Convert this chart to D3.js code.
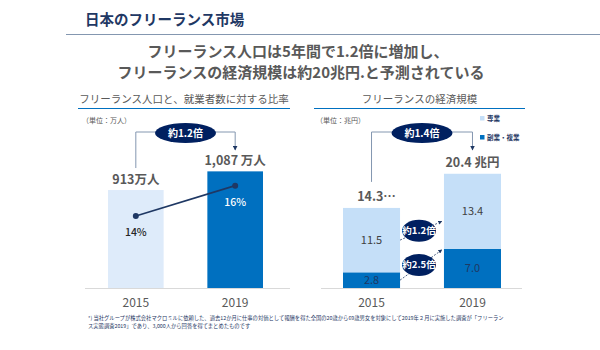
<!DOCTYPE html>
<html>
<head>
<meta charset="utf-8">
<script src="https://cdn.jsdelivr.net/npm/d3@7"></script>
<style>
  body { margin: 0; background: #fff; }
  svg { font-family: "Noto Sans CJK JP", "Noto Sans", sans-serif; }
</style>
</head>
<body>
<svg width="600" height="350"></svg>
<script>
const svg = d3.select('svg');

const years = ['2015', '2019'];
const freelancers = [913, 1087];
const freelancerLabels = ['913万人', '1,087 万人'];
const workforceShare = [14, 16];
const mainJob = [11.5, 13.4];
const sideJob = [2.8, 7.0];
const marketLabels = ['14.3…', '20.4 兆円'];
const growthLabels = ['約1.2倍', '約1.4倍'];
const segmentGrowth = ['約1.2倍', '約2.5倍'];

const NAVY = '#1f3864';
const DARK = '#002060';
const GREY = '#595959';
const BLUE = '#0070c0';

// arrow marker
svg.append('defs').append('marker')
    .attr('id', 'arrow')
    .attr('viewBox', '0 0 10 10')
    .attr('refX', 9).attr('refY', 5)
    .attr('markerWidth', 5).attr('markerHeight', 5)
    .attr('orient', 'auto')
    .append('path').attr('d', 'M0,0L10,5L0,10z').attr('fill', NAVY);

// Header
svg.append('text').attr('x', 85).attr('y', 25)
    .style('font-size', '14.5px').style('font-weight', 700).style('fill', NAVY)
    .text('日本のフリーランス市場');
svg.append('line').attr('x1', 66).attr('x2', 600).attr('y1', 34.5).attr('y2', 34.5)
    .style('stroke', '#8497b0').style('stroke-width', 1);
svg.append('text').attr('x', 298).attr('y', 57).attr('text-anchor', 'middle')
    .style('font-size', '15px').style('font-weight', 700).style('fill', GREY)
    .text('フリーランス人口は5年間で1.2倍に増加し、');
svg.append('text').attr('x', 301).attr('y', 78).attr('text-anchor', 'middle')
    .style('font-size', '15px').style('font-weight', 700).style('fill', GREY)
    .text('フリーランスの経済規模は約20兆円.と予測されている');

const panelHead = (x1, x2, label) => {
    svg.append('text').attr('x', (x1 + x2) / 2).attr('y', 103).attr('text-anchor', 'middle')
        .style('font-size', '10.5px').style('fill', GREY).text(label);
    svg.append('line').attr('x1', x1).attr('x2', x2).attr('y1', 108.5).attr('y2', 108.5)
        .style('stroke', BLUE).style('stroke-width', 1.2);
};
panelHead(78, 290, 'フリーランス人口と、就業者数に対する比率');
panelHead(314, 525, 'フリーランスの経済規模');

svg.append('text').attr('x', 82).attr('y', 123).style('font-size', '7px').style('fill', GREY).text('（単位：万人）');
svg.append('text').attr('x', 316).attr('y', 123).style('font-size', '7px').style('fill', GREY).text('（単位：兆円）');

// growth callout: elbow connector + ellipse
const callout = (xa, ya, xb, yTop, yEnd, label) => {
    svg.append('path')
        .attr('d', `M${xa},${ya}V${yTop}H${xb}V${yEnd}`)
        .style('fill', 'none').style('stroke', '#8497b0').style('stroke-width', 1)
        .attr('marker-end', 'url(#arrow)');
    const cx = (xa + xb) / 2;
    svg.append('ellipse').attr('cx', cx).attr('cy', yTop + 1).attr('rx', 30.5).attr('ry', 10)
        .style('fill', DARK);
    svg.append('text').attr('x', cx).attr('y', yTop + 5).attr('text-anchor', 'middle')
        .style('font-size', '10px').style('font-weight', 700).style('fill', '#fff').text(label);
};

// ---------- Left chart ----------
const xL = d3.scaleBand().domain(years).range([108, 263]).paddingInner(0.44);
const yL = d3.scaleLinear().domain([0, 1000]).range([288, 180.7]);
const yRate = d3.scaleLinear().domain([10, 20]).range([276.6, 125]);

svg.append('g').selectAll('rect').data(freelancers).join('rect')
    .attr('x', (d, i) => xL(years[i]))
    .attr('y', d => yL(d))
    .attr('width', xL.bandwidth())
    .attr('height', d => yL(0) - yL(d))
    .style('fill', (d, i) => i === 0 ? '#deebfa' : BLUE);

svg.append('line').attr('x1', 85).attr('x2', 290).attr('y1', 288.5).attr('y2', 288.5)
    .style('stroke', '#d9d9d9');

const cL = (i) => xL(years[i]) + xL.bandwidth() / 2;

svg.append('g').selectAll('text').data(freelancerLabels).join('text')
    .attr('x', (d, i) => cL(i)).attr('y', (d, i) => yL(freelancers[i]) - 6)
    .attr('text-anchor', 'middle')
    .style('font-size', '12.5px').style('font-weight', 700).style('fill', GREY)
    .text(d => d);

callout(cL(0), yL(freelancers[0]) - 22, cL(1), 132, 150, growthLabels[0]);

const line = d3.line().x((d, i) => cL(i)).y(d => yRate(d));
svg.append('path').datum(workforceShare).attr('d', line)
    .style('fill', 'none').style('stroke', NAVY).style('stroke-width', 1.6);
svg.append('g').selectAll('circle').data(workforceShare).join('circle')
    .attr('cx', (d, i) => cL(i)).attr('cy', d => yRate(d)).attr('r', 3)
    .style('fill', NAVY);
svg.append('g').selectAll('text').data(workforceShare).join('text')
    .attr('x', (d, i) => cL(i)).attr('y', d => yRate(d) + 20)
    .attr('text-anchor', 'middle')
    .style('font-size', '10.5px').style('font-weight', 500)
    .style('fill', (d, i) => i === 0 ? '#262626' : '#fff')
    .text(d => d + '%');

svg.append('g').selectAll('text').data(years).join('text')
    .attr('x', (d, i) => cL(i)).attr('y', 307).attr('text-anchor', 'middle')
    .style('font-size', '12px').style('font-weight', 400).style('fill', GREY).text(d => d);

// ---------- Right chart ----------
const xR = d3.scaleBand().domain(years).range([343, 501]).paddingInner(0.435);
const yR = d3.scaleLinear().domain([0, 20]).range([288, 176]);
const cR = (i) => xR(years[i]) + xR.bandwidth() / 2;

const stacked = d3.stack().keys(['side', 'main'])(years.map((y, i) => ({ side: sideJob[i], main: mainJob[i] })));
const fills = { side: BLUE, main: '#c5dff8' };

svg.append('g').selectAll('g').data(stacked).join('g')
    .style('fill', d => fills[d.key])
    .selectAll('rect').data(d => d).join('rect')
    .attr('x', (d, i) => xR(years[i]))
    .attr('y', d => yR(d[1]))
    .attr('width', xR.bandwidth())
    .attr('height', d => yR(d[0]) - yR(d[1]));

svg.append('line').attr('x1', 321).attr('x2', 522).attr('y1', 288.5).attr('y2', 288.5)
    .style('stroke', '#d9d9d9');

stacked.forEach(s => {
    svg.append('g').selectAll('text').data(s).join('text')
        .attr('x', (d, i) => cR(i)).attr('y', d => yR((d[0] + d[1]) / 2) + 4)
        .attr('text-anchor', 'middle')
        .style('font-size', '11px')
        .style('fill', s.key === 'side' ? NAVY : '#404040')
        .text(d => (d[1] - d[0]).toFixed(1));
});

svg.append('g').selectAll('text').data(marketLabels).join('text')
    .attr('x', (d, i) => cR(i) + (i === 0 ? 5 : 0))
    .attr('y', (d, i) => yR(sideJob[i] + mainJob[i]) - 7)
    .attr('text-anchor', 'middle')
    .style('font-size', '12.5px').style('font-weight', 700).style('fill', GREY)
    .text(d => d);

callout(cR(0), yR(sideJob[0] + mainJob[0]) - 26, cR(1), 132, 150, growthLabels[1]);

// segment growth arrows
const segEnds = [
    [yR(sideJob[0] + mainJob[0] / 2), yR(sideJob[1] + mainJob[1] / 2) + 10],
    [yR(sideJob[0] / 2), yR(sideJob[1]) + 1]
];
const x0 = xR(years[0]) + xR.bandwidth();
const x1 = xR(years[1]) - 2;
segEnds.forEach(([ya, yb], i) => {
    svg.append('line').attr('x1', x0).attr('y1', ya).attr('x2', x1).attr('y2', yb)
        .style('stroke', NAVY).style('stroke-width', 0.8).style('stroke-dasharray', '2,1.5')
        .attr('marker-end', 'url(#arrow)');
    const cx = (x0 + x1) / 2 - 2, cy = (ya + yb) / 2;
    svg.append('ellipse').attr('cx', cx).attr('cy', cy).attr('rx', 17).attr('ry', 11)
        .style('fill', DARK);
    svg.append('text').attr('x', cx).attr('y', cy + 3.5).attr('text-anchor', 'middle')
        .style('font-size', '9.5px').style('font-weight', 700).style('fill', '#fff')
        .text(segmentGrowth[i]);
});

svg.append('g').selectAll('text').data(years).join('text')
    .attr('x', (d, i) => cR(i)).attr('y', 307).attr('text-anchor', 'middle')
    .style('font-size', '12px').style('font-weight', 400).style('fill', GREY).text(d => d);

// legend
const legend = [['専業', '#c5dff8'], ['副業・複業', BLUE]];
const lg = svg.append('g').selectAll('g').data(legend).join('g')
    .attr('transform', (d, i) => `translate(480,${116 + i * 19})`);
lg.append('rect').attr('width', 4.5).attr('height', 4.5).style('fill', d => d[1]);
lg.append('text').attr('x', 7).attr('y', 5).style('font-size', '6.5px').style('font-weight', 700)
    .style('fill', NAVY).text(d => d[0]);

// footnote
const note = svg.append('text').style('font-size', '5.3px').style('fill', NAVY);
note.append('tspan').attr('x', 88).attr('y', 320)
    .text('*) 当社グループが株式会社マクロミルに依頼した、過去12か月に仕事の対価として報酬を得た全国の20歳から69歳男女を対象にして2019年２月に実施した調査が「フリーラン');
note.append('tspan').attr('x', 88).attr('y', 327.5)
    .text('ス実態調査2019」であり、3,000人から回答を得てまとめたものです');
</script>
</body>
</html>
